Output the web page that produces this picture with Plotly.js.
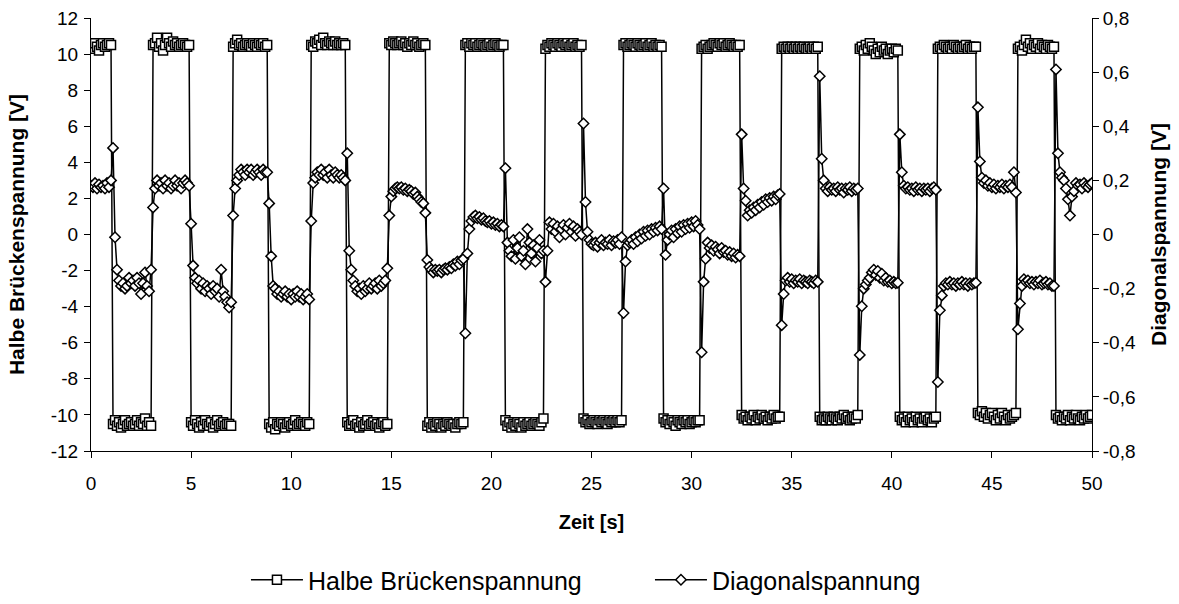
<!DOCTYPE html>
<html>
<head>
<meta charset="utf-8">
<script src="https://cdn.plot.ly/plotly-3.0.1.min.js"></script>
<style>html,body{margin:0;padding:0;background:#fff;}#chart{width:1179px;height:604px;}</style>
</head>
<body>
<div id="chart"></div>
<script>
// Zeit [s]
var zeit = [
0,0.1,0.2,0.3,0.4,0.5,0.6,0.7,0.8,0.9,
1,1.1,1.2,1.3,1.4,1.5,1.6,1.7,1.8,1.9,
2,2.1,2.2,2.3,2.4,2.5,2.6,2.7,2.8,2.9,
3,3.1,3.2,3.3,3.4,3.5,3.6,3.7,3.8,3.9,
4,4.1,4.2,4.3,4.4,4.5,4.6,4.7,4.8,4.9,
5,5.1,5.2,5.3,5.4,5.5,5.6,5.7,5.8,5.9,
6,6.1,6.2,6.3,6.4,6.5,6.6,6.7,6.8,6.9,
7,7.1,7.2,7.3,7.4,7.5,7.6,7.7,7.8,7.9,
8,8.1,8.2,8.3,8.4,8.5,8.6,8.7,8.8,8.9,
9,9.1,9.2,9.3,9.4,9.5,9.6,9.7,9.8,9.9,
10,10.1,10.2,10.3,10.4,10.5,10.6,10.7,10.8,10.9,
11,11.1,11.2,11.3,11.4,11.5,11.6,11.7,11.8,11.9,
12,12.1,12.2,12.3,12.4,12.5,12.6,12.7,12.8,12.9,
13,13.1,13.2,13.3,13.4,13.5,13.6,13.7,13.8,13.9,
14,14.1,14.2,14.3,14.4,14.5,14.6,14.7,14.8,14.9,
15,15.1,15.2,15.3,15.4,15.5,15.6,15.7,15.8,15.9,
16,16.1,16.2,16.3,16.4,16.5,16.6,16.7,16.8,16.9,
17,17.1,17.2,17.3,17.4,17.5,17.6,17.7,17.8,17.9,
18,18.1,18.2,18.3,18.4,18.5,18.6,18.7,18.8,18.9,
19,19.1,19.2,19.3,19.4,19.5,19.6,19.7,19.8,19.9,
20,20.1,20.2,20.3,20.4,20.5,20.6,20.7,20.8,20.9,
21,21.1,21.2,21.3,21.4,21.5,21.6,21.7,21.8,21.9,
22,22.1,22.2,22.3,22.4,22.5,22.6,22.7,22.8,22.9,
23,23.1,23.2,23.3,23.4,23.5,23.6,23.7,23.8,23.9,
24,24.1,24.2,24.3,24.4,24.5,24.6,24.7,24.8,24.9,
25,25.1,25.2,25.3,25.4,25.5,25.6,25.7,25.8,25.9,
26,26.1,26.2,26.3,26.4,26.5,26.6,26.7,26.8,26.9,
27,27.1,27.2,27.3,27.4,27.5,27.6,27.7,27.8,27.9,
28,28.1,28.2,28.3,28.4,28.5,28.6,28.7,28.8,28.9,
29,29.1,29.2,29.3,29.4,29.5,29.6,29.7,29.8,29.9,
30,30.1,30.2,30.3,30.4,30.5,30.6,30.7,30.8,30.9,
31,31.1,31.2,31.3,31.4,31.5,31.6,31.7,31.8,31.9,
32,32.1,32.2,32.3,32.4,32.5,32.6,32.7,32.8,32.9,
33,33.1,33.2,33.3,33.4,33.5,33.6,33.7,33.8,33.9,
34,34.1,34.2,34.3,34.4,34.5,34.6,34.7,34.8,34.9,
35,35.1,35.2,35.3,35.4,35.5,35.6,35.7,35.8,35.9,
36,36.1,36.2,36.3,36.4,36.5,36.6,36.7,36.8,36.9,
37,37.1,37.2,37.3,37.4,37.5,37.6,37.7,37.8,37.9,
38,38.1,38.2,38.3,38.4,38.5,38.6,38.7,38.8,38.9,
39,39.1,39.2,39.3,39.4,39.5,39.6,39.7,39.8,39.9,
40,40.1,40.2,40.3,40.4,40.5,40.6,40.7,40.8,40.9,
41,41.1,41.2,41.3,41.4,41.5,41.6,41.7,41.8,41.9,
42,42.1,42.2,42.3,42.4,42.5,42.6,42.7,42.8,42.9,
43,43.1,43.2,43.3,43.4,43.5,43.6,43.7,43.8,43.9,
44,44.1,44.2,44.3,44.4,44.5,44.6,44.7,44.8,44.9,
45,45.1,45.2,45.3,45.4,45.5,45.6,45.7,45.8,45.9,
46,46.1,46.2,46.3,46.4,46.5,46.6,46.7,46.8,46.9,
47,47.1,47.2,47.3,47.4,47.5,47.6,47.7,47.8,47.9,
48,48.1,48.2,48.3,48.4,48.5,48.6,48.7,48.8,48.9,
49,49.1,49.2,49.3,49.4,49.5,49.6,49.7,49.8,49.9,
50
];

// Halbe Brückenspannung [V]
var halbeBrueckenspannung = [
10.5,10.3,10.6,10.4,10.2,10.5,10.6,10.4,10.5,10.6,10.5,
-10.5,-10.3,-10.6,-10.4,-10.7,-10.5,-10.3,-10.6,-10.5,-10.4,-10.6,-10.5,-10.3,-10.6,-10.4,-10.5,-10.2,-10.6,-10.4,-10.6,
10.5,10.6,10.9,10.4,10.6,10.2,10.5,10.9,10.6,10.4,10.7,10.5,10.6,10.4,10.5,10.6,10.5,10.4,10.5,
-10.4,-10.6,-10.3,-10.5,-10.7,-10.4,-10.6,-10.3,-10.5,-10.6,-10.4,-10.7,-10.5,-10.3,-10.6,-10.5,-10.4,-10.6,-10.5,-10.5,-10.6,
10.4,10.6,10.8,10.5,10.6,10.4,10.5,10.6,10.5,10.4,10.6,10.5,10.4,10.6,10.5,10.6,10.4,10.5,
-10.5,-10.7,-10.4,-10.8,-10.5,-10.6,-10.4,-10.5,-10.7,-10.5,-10.4,-10.6,-10.5,-10.3,-10.6,-10.5,-10.4,-10.5,-10.6,-10.4,-10.5,
10.5,10.4,10.7,10.6,10.8,10.5,10.9,10.6,10.5,10.7,10.6,10.5,10.7,10.5,10.6,10.5,10.6,10.5,
-10.4,-10.6,-10.5,-10.3,-10.6,-10.5,-10.7,-10.4,-10.6,-10.5,-10.3,-10.6,-10.5,-10.4,-10.6,-10.5,-10.7,-10.5,-10.4,-10.6,-10.5,
10.6,10.5,10.7,10.6,10.5,10.6,10.7,10.5,10.6,10.4,10.6,10.5,10.7,10.5,10.6,10.4,10.5,10.6,10.5,
-10.6,-10.4,-10.7,-10.5,-10.6,-10.4,-10.5,-10.7,-10.5,-10.6,-10.4,-10.5,-10.6,-10.5,-10.7,-10.5,-10.4,-10.5,-10.4,
10.5,10.6,10.4,10.6,10.5,10.6,10.4,10.5,10.6,10.5,10.4,10.5,10.6,10.4,10.5,10.6,10.5,10.4,10.5,10.5,
-10.3,-10.6,-10.4,-10.7,-10.5,-10.6,-10.4,-10.5,-10.7,-10.4,-10.6,-10.5,-10.4,-10.6,-10.5,-10.4,-10.5,-10.6,-10.4,-10.2,
10.3,10.5,10.4,10.6,10.5,10.4,10.6,10.5,10.4,10.6,10.5,10.6,10.4,10.5,10.6,10.4,10.5,10.4,10.5,
-10.2,-10.4,-10.3,-10.5,-10.4,-10.3,-10.4,-10.5,-10.3,-10.4,-10.3,-10.4,-10.5,-10.3,-10.4,-10.3,-10.4,-10.3,-10.4,-10.3,
10.5,10.6,10.4,10.5,10.6,10.5,10.4,10.6,10.5,10.4,10.5,10.6,10.4,10.5,10.6,10.4,10.5,10.4,10.5,10.4,
-10.2,-10.4,-10.3,-10.5,-10.3,-10.4,-10.6,-10.3,-10.4,-10.5,-10.3,-10.4,-10.3,-10.5,-10.4,-10.3,-10.4,-10.3,-10.3,
10.3,10.4,10.5,10.3,10.4,10.5,10.6,10.5,10.4,10.6,10.5,10.6,10.4,10.5,10.6,10.5,10.4,10.5,10.4,10.5,
-10.0,-10.2,-10.1,-10.3,-10.1,-10.2,-10.0,-10.3,-10.1,-10.2,-10.0,-10.2,-10.1,-10.3,-10.1,-10.2,-10.0,-10.2,-10.1,-10.1,
10.3,10.4,10.3,10.4,10.3,10.4,10.3,10.4,10.3,10.4,10.3,10.4,10.3,10.3,10.4,10.3,10.4,10.3,10.4,
-10.1,-10.3,-10.2,-10.3,-10.1,-10.2,-10.3,-10.1,-10.2,-10.3,-10.1,-10.2,-10.0,-10.2,-10.1,-10.3,-10.2,-10.1,-10.2,-10.0,
10.3,10.4,10.2,10.5,10.3,10.6,10.4,10.2,10.0,10.3,10.1,10.4,10.2,10.3,10.0,10.2,10.3,10.1,10.3,10.2,
-10.1,-10.3,-10.2,-10.4,-10.1,-10.3,-10.2,-10.4,-10.1,-10.3,-10.2,-10.4,-10.2,-10.1,-10.3,-10.2,-10.4,-10.2,-10.1,
10.3,10.4,10.3,10.5,10.4,10.3,10.4,10.3,10.5,10.4,10.3,10.4,10.3,10.4,10.5,10.3,10.4,10.3,10.4,10.4,
-9.9,-10.0,-9.8,-10.1,-9.9,-10.2,-10.0,-9.9,-10.1,-10.3,-10.0,-10.2,-9.9,-10.1,-10.3,-10.0,-10.2,-10.1,-10.0,-9.9,
10.3,10.4,10.2,10.5,10.8,10.4,10.6,10.3,10.5,10.4,10.6,10.3,10.5,10.4,10.3,10.5,10.4,10.3,10.4,
-10.0,-10.2,-10.1,-10.3,-10.1,-10.2,-10.0,-10.3,-10.1,-10.2,-10.0,-10.2,-10.3,-10.1,-10.2,-10.0,-10.2,-10.1,-10.0
];

// Diagonalspannung [V]
var diagonalspannung = [
0.18,0.175,0.19,0.17,0.185,0.175,0.18,0.17,0.19,0.175,0.2,
0.32,-0.01,-0.13,-0.17,-0.19,-0.18,-0.2,-0.19,-0.16,-0.18,-0.17,-0.19,-0.16,-0.18,-0.22,-0.18,-0.14,-0.19,-0.21,-0.13,
0.1,0.17,0.2,0.18,0.19,0.17,0.2,0.18,0.19,0.17,0.18,0.2,0.18,0.19,0.17,0.19,0.2,0.19,0.18,
0.04,-0.115,-0.16,-0.18,-0.17,-0.2,-0.18,-0.21,-0.19,-0.2,-0.22,-0.19,-0.21,-0.2,-0.23,-0.13,-0.21,-0.23,-0.25,-0.27,-0.25,
0.07,0.17,0.2,0.22,0.24,0.23,0.22,0.24,0.23,0.24,0.22,0.23,0.24,0.23,0.22,0.24,0.23,0.23,
0.115,-0.08,-0.19,-0.2,-0.22,-0.21,-0.23,-0.22,-0.21,-0.23,-0.22,-0.24,-0.22,-0.23,-0.21,-0.23,-0.22,-0.24,-0.23,-0.22,-0.24,
0.05,0.19,0.21,0.23,0.22,0.24,0.22,0.23,0.21,0.24,0.22,0.21,0.23,0.22,0.21,0.22,0.21,0.2,
0.3,-0.06,-0.13,-0.17,-0.19,-0.21,-0.2,-0.22,-0.19,-0.21,-0.2,-0.18,-0.2,-0.19,-0.18,-0.2,-0.17,-0.19,-0.18,-0.17,-0.125,
0.07,0.14,0.16,0.17,0.175,0.17,0.175,0.165,0.17,0.16,0.165,0.16,0.15,0.155,0.14,0.13,0.12,0.115,0.08,
-0.094,-0.12,-0.13,-0.14,-0.13,-0.135,-0.13,-0.14,-0.13,-0.125,-0.13,-0.12,-0.125,-0.11,-0.115,-0.1,-0.11,-0.095,-0.09,
-0.365,-0.07,0.02,0.05,0.065,0.07,0.06,0.065,0.055,0.06,0.05,0.045,0.05,0.04,0.045,0.035,0.04,0.03,0.035,0.03,
0.245,-0.03,-0.06,-0.08,-0.02,-0.09,-0.05,-0.01,-0.08,-0.06,-0.11,0.02,-0.03,-0.07,-0.04,-0.1,-0.05,-0.02,-0.07,-0.06,
-0.175,-0.06,0.045,0.02,0.04,0.01,0.03,-0.01,0.02,0.035,0,0.025,0.04,0.01,0.03,-0.005,0.02,0.01,0,
0.41,0.12,0.01,-0.02,-0.035,-0.04,-0.03,-0.045,-0.03,-0.02,-0.04,-0.03,-0.035,-0.02,-0.04,-0.025,-0.03,-0.02,-0.035,-0.01,
-0.29,-0.1,-0.04,-0.03,-0.02,-0.035,-0.01,-0.025,0,-0.015,0.01,-0.005,0.015,0,0.02,0.01,0.025,0.015,0.03,0.02,
0.17,-0.075,-0.02,0,0.015,-0.01,0.02,0.005,0.03,0.01,0.035,0.02,0.04,0.025,0.045,0.03,0.05,0.035,0.02,
-0.435,-0.175,-0.09,-0.03,-0.05,-0.04,-0.06,-0.045,-0.055,-0.07,-0.05,-0.065,-0.06,-0.075,-0.065,-0.08,-0.07,-0.085,-0.075,-0.08,
0.37,0.17,0.125,0.07,0.09,0.08,0.1,0.09,0.11,0.1,0.12,0.11,0.13,0.12,0.135,0.125,0.14,0.13,0.145,0.15,
-0.335,-0.22,-0.17,-0.16,-0.175,-0.165,-0.18,-0.17,-0.175,-0.165,-0.18,-0.17,-0.175,-0.18,-0.17,-0.175,-0.18,-0.17,-0.175,
0.585,0.28,0.2,0.17,0.16,0.175,0.165,0.17,0.16,0.175,0.165,0.17,0.155,0.17,0.165,0.175,0.16,0.17,0.165,0.17,
-0.445,-0.265,-0.2,-0.185,-0.17,-0.16,-0.14,-0.13,-0.15,-0.135,-0.16,-0.145,-0.17,-0.16,-0.175,-0.17,-0.18,-0.175,-0.18,-0.178,
0.37,0.23,0.18,0.17,0.175,0.165,0.17,0.16,0.175,0.165,0.17,0.16,0.17,0.165,0.17,0.16,0.17,0.175,0.165,
-0.545,-0.28,-0.225,-0.19,-0.18,-0.185,-0.175,-0.185,-0.18,-0.19,-0.18,-0.185,-0.175,-0.185,-0.18,-0.19,-0.18,-0.185,-0.18,-0.178,
0.47,0.27,0.21,0.19,0.2,0.18,0.19,0.175,0.185,0.17,0.18,0.175,0.185,0.17,0.18,0.175,0.185,0.175,0.23,0.155,
-0.35,-0.255,-0.19,-0.165,-0.175,-0.17,-0.18,-0.175,-0.185,-0.175,-0.18,-0.17,-0.185,-0.18,-0.175,-0.185,-0.18,-0.19,-0.19,
0.61,0.3,0.23,0.21,0.2,0.17,0.13,0.07,0.14,0.16,0.19,0.18,0.185,0.17,0.19,0.18,0.175,0.185,0.19
];

var xTickVals = [0,5,10,15,20,25,30,35,40,45,50];
var yTickVals = [-12,-10,-8,-6,-4,-2,0,2,4,6,8,10,12];
var yTickText = ['-12','-10','-8','-6','-4','-2','0','2','4','6','8','10','12'];
var y2TickVals = [-0.8,-0.6,-0.4,-0.2,0,0.2,0.4,0.6,0.8];
var y2TickText = ['-0,8','-0,6','-0,4','-0,2','0','0,2','0,4','0,6','0,8'];

var FONT = 'Arial, "Liberation Sans", sans-serif';

var traces = [
  {
    x: zeit, y: halbeBrueckenspannung, name: 'Halbe Brückenspannung',
    type: 'scatter', mode: 'lines+markers', yaxis: 'y',
    line: {color: '#000', width: 1.5},
    marker: {symbol: 'square', size: 9, color: '#fff', line: {color: '#000', width: 1.5}}
  },
  {
    x: zeit, y: diagonalspannung, name: 'Diagonalspannung',
    type: 'scatter', mode: 'lines+markers', yaxis: 'y2',
    line: {color: '#000', width: 1.5},
    marker: {symbol: 'diamond', size: 8, color: '#fff', line: {color: '#000', width: 1.5}}
  }
];

var axisCommon = {
  showgrid: false, zeroline: false, showline: true, linecolor: '#000', linewidth: 1,
  ticks: 'outside', ticklen: 6, tickwidth: 1, tickcolor: '#000', automargin: false,
  tickfont: {family: FONT, size: 19, color: '#000'}
};

var layout = {
  width: 1179, height: 604,
  margin: {l: 91, r: 87, t: 18, b: 153, autoexpand: false},
  paper_bgcolor: '#fff', plot_bgcolor: '#fff',
  font: {family: FONT, color: '#000'},
  showlegend: true,
  legend: {
    orientation: 'h', x: 0.5584, xanchor: 'center', y: -0.298, yanchor: 'middle',
    font: {family: FONT, size: 25, color: '#000'},
    itemwidth: 52,
    entrywidth: 337, entrywidthmode: 'pixels'
  },
  xaxis: Object.assign({}, axisCommon, {
    range: [0, 50], tickvals: xTickVals, ticklabelstandoff: 9,
    title: {text: '<b>Zeit [s]</b>', font: {family: FONT, size: 20, color: '#000'}, standoff: 22}
  }),
  yaxis: Object.assign({}, axisCommon, {
    range: [-12, 12], tickvals: yTickVals, ticktext: yTickText, ticklabelstandoff: 2,
    title: {text: '<b>Halbe Brückenspannung [V]</b>', font: {family: FONT, size: 21, color: '#000'}, standoff: 20}
  }),
  yaxis2: Object.assign({}, axisCommon, {
    range: [-0.8, 0.8], tickvals: y2TickVals, ticktext: y2TickText,
    overlaying: 'y', side: 'right',
    title: {text: '<b>Diagonalspannung [V]</b>', font: {family: FONT, size: 21, color: '#000'}, standoff: 16}
  })
};

Plotly.newPlot('chart', traces, layout, {displayModeBar: false, staticPlot: true});
</script>
</body>
</html>
